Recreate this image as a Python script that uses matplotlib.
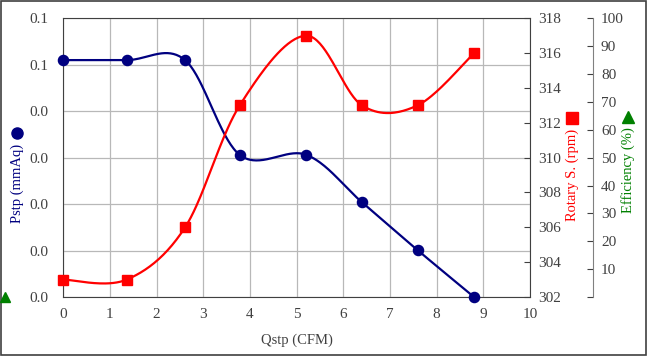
import numpy as np
import matplotlib
matplotlib.use("Agg")
import matplotlib.pyplot as plt
from matplotlib.lines import Line2D

# data
qstp = [0.0, 1.36, 2.61, 3.78, 5.21, 6.40, 7.59, 8.80]
pstp = [0.051, 0.051, 0.051, 0.0306, 0.0306, 0.0204, 0.0101, 0.0]
rpm = [303, 303, 306, 313, 317, 313, 313, 316]

x_ticks = list(range(0, 11))
p_ticks = [0.0, 0.01, 0.02, 0.03, 0.04, 0.05, 0.06]
p_labels = ["0.0", "0.0", "0.0", "0.0", "0.0", "0.1", "0.1"]
rpm_ticks = list(range(302, 319, 2))
eff_ticks = list(range(0, 101, 10))
eff_labels = [""] + [str(v) for v in eff_ticks[1:]]

NAVY = "#000080"
RED = "#ff0000"
GREEN = "#008000"
TXT = "#404040"
FS = 11
FS_T = 10.5

plt.rcParams["font.family"] = ["Liberation Serif", "DejaVu Serif"]
plt.rcParams["font.size"] = FS


def smooth(xs, ys, xr, yr, n=40):
    """Excel-like smoothing: uniform Catmull-Rom in normalised coords."""
    px = np.asarray(xs, float) / xr
    py = np.asarray(ys, float) / yr
    P = np.column_stack([px, py])
    P = np.vstack([P[0], P, P[-1]])
    out = []
    t = np.linspace(0, 1, n)[:, None]
    for i in range(1, len(P) - 2):
        p0, p1, p2, p3 = P[i - 1], P[i], P[i + 1], P[i + 2]
        c1 = p1 + (p2 - p0) / 6
        c2 = p2 - (p3 - p1) / 6
        seg = ((1 - t) ** 3) * p1 + 3 * ((1 - t) ** 2) * t * c1 + 3 * (1 - t) * t ** 2 * c2 + t ** 3 * p2
        out.append(seg)
    out = np.vstack(out)
    return out[:, 0] * xr, out[:, 1] * yr


fig = plt.figure(figsize=(6.47, 3.56), dpi=100)
ax = fig.add_axes([0.0978, 0.1657, 0.7214, 0.7829])
ax2 = ax.twinx()
ax3 = ax.twinx()

# Pstp
sx, sy = smooth(qstp, pstp, 10, 0.06)
ax.plot(sx, sy, color=NAVY, lw=1.6, zorder=3)
ax.plot(qstp, pstp, "o", color=NAVY, ms=7.3, clip_on=False, zorder=4)
ax.set_xlim(0, 10)
ax.set_ylim(0, 0.06)
ax.set_xticks(x_ticks)
ax.set_yticks(p_ticks)
ax.set_yticklabels(p_labels)
ax.grid(True, color="#b8b8b8", lw=0.9)
ax.tick_params(axis="both", length=0, colors=TXT, labelsize=FS)
ax.tick_params(axis="y", pad=11)
ax.tick_params(axis="x", pad=8)
ax.set_xlabel("Qstp (CFM)", color=TXT, labelpad=9, fontsize=FS_T)
for s in ax.spines.values():
    s.set_color("#404040")

# rotary speed
rx, ry = smooth(qstp, rpm, 10, 16)
ax2.plot(rx, ry, color=RED, lw=1.6, zorder=3)
ax2.plot(qstp, rpm, "s", color=RED, ms=7.3, clip_on=False, zorder=4)
ax2.set_ylim(302, 318)
ax2.set_yticks(rpm_ticks)
ax2.tick_params(axis="y", direction="in", length=4, colors=TXT, labelsize=FS, pad=6)
for s in ax2.spines.values():
    s.set_visible(False)

# efficiency (empty axis)
ax3.set_ylim(0, 100)
ax3.set_yticks(eff_ticks)
ax3.set_yticklabels(eff_labels)
ax3.spines["right"].set_position(("axes", 1.134))
for k, s in ax3.spines.items():
    s.set_visible(k == "right")
ax3.spines["right"].set_color("#808080")
ax3.tick_params(axis="y", direction="in", length=4, colors=TXT, labelsize=FS, pad=6)

# axis titles with their symbols
fig.text(0.027, 0.595, "Pstp (mmAq)", rotation=90, color=NAVY, ha="center", va="top", fontsize=FS_T)
fig.text(0.884, 0.638, "Rotary S. (rpm)", rotation=90, color=RED, ha="center", va="top", fontsize=FS_T)
fig.text(0.970, 0.643, "Efficiency (%)", rotation=90, color=GREEN, ha="center", va="top", fontsize=FS_T)
fig.add_artist(Line2D([0.027], [0.626], marker="o", color=NAVY, ms=8, transform=fig.transFigure))
fig.add_artist(Line2D([0.884], [0.668], marker="s", color=RED, ms=8, transform=fig.transFigure))
fig.add_artist(Line2D([0.970], [0.670], marker="^", color=GREEN, ms=8, transform=fig.transFigure))
fig.add_artist(Line2D([0.008], [0.165], marker="^", color=GREEN, ms=7, transform=fig.transFigure))

# outer frame
fig.add_artist(plt.Rectangle((0.001, 0.002), 0.997, 0.995, fill=False, ec="#404040", lw=1.2,
                             transform=fig.transFigure))

fig.savefig("out.png", dpi=100)
